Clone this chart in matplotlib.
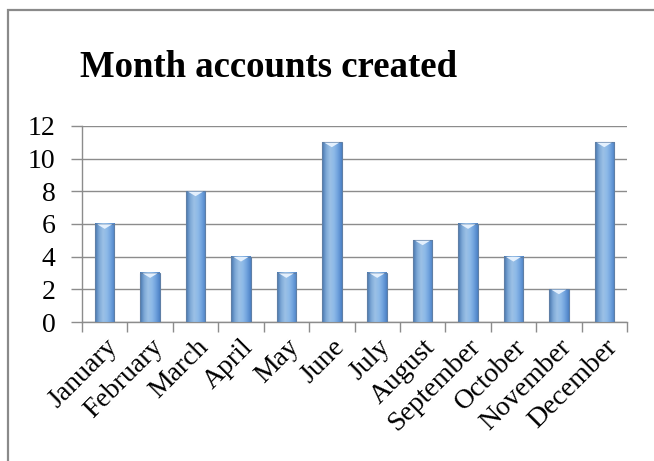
import numpy as np
import matplotlib
matplotlib.use("Agg")
import matplotlib.pyplot as plt
from matplotlib.colors import LinearSegmentedColormap
from matplotlib.patches import Rectangle

MONTHS = ["January", "February", "March", "April", "May", "June", "July",
          "August", "September", "October", "November", "December"]
ACCOUNTS = [6, 3, 8, 4, 3, 11, 3, 5, 6, 4, 2, 11]
Y_TICKS = [0, 2, 4, 6, 8, 10, 12]

TITLE = "Month accounts created"
BAR_WIDTH = 0.43
GRID_COLOR = "#8c8c8c"

plt.rcParams["font.family"] = ["Liberation Serif", "DejaVu Serif"]

fig = plt.figure(figsize=(6.54, 4.61), dpi=100)
ax = fig.add_axes([0.1254, 0.3015, 0.8333, 0.4252])

# outer chart frame
fig.patches.append(Rectangle((8 / 654, -0.1), 1.1, 1 - 10 / 461 + 0.1,
                             transform=fig.transFigure, fill=False,
                             edgecolor="#8a8a8a", linewidth=1.6))

# cylinder-like shading for each bar
cmap = LinearSegmentedColormap.from_list(
    "bar", ["#5289cb", "#8bbbef", "#a7cff7", "#93c1f1", "#70a3de", "#4a7dbf"])
xs = np.linspace(0, 1, 64)
grad = np.tile(xs, (64, 1))
shade = np.linspace(0.86, 1.03, 64)[:, None]
img = cmap(grad)
img[..., :3] = np.clip(img[..., :3] * shade, 0, 1)

for i, v in enumerate(ACCOUNTS):
    x0 = i - BAR_WIDTH / 2
    ax.imshow(img, extent=(x0, x0 + BAR_WIDTH, 0, v), origin="lower",
              aspect="auto", zorder=3, interpolation="bilinear")
    ax.add_patch(Rectangle((x0, 0), BAR_WIDTH, v, fill=False,
                           edgecolor="#5f7fa6", linewidth=0.8, zorder=4))
    # lighter cap at top of each bar
    ax.fill([x0 + 0.05, i, x0 + BAR_WIDTH - 0.05],
            [v - 0.02, v - 0.3, v - 0.02], color="#e4f0fd", zorder=5,
            linewidth=0)

ax.set_xlim(-0.5, len(MONTHS) - 0.5)
ax.set_ylim(0, 12)
ax.set_yticks(Y_TICKS)
ax.yaxis.grid(True, color=GRID_COLOR, linewidth=1.0)
ax.set_axisbelow(True)

for side in ["top", "right"]:
    ax.spines[side].set_visible(False)
for side in ["left", "bottom"]:
    ax.spines[side].set_color(GRID_COLOR)
    ax.spines[side].set_linewidth(1.0)

ax.set_xticks(range(len(MONTHS)))
ax.set_xticklabels(MONTHS, rotation=45, ha="right", rotation_mode="anchor",
                   fontsize=20)
ax.set_xticks(np.arange(-0.5, len(MONTHS)), minor=True)
ax.tick_params(axis="x", which="major", length=0, pad=9)
ax.tick_params(axis="x", which="minor", length=7, color=GRID_COLOR, width=1.0)
ax.tick_params(axis="y", length=8, color=GRID_COLOR, width=1.0,
               labelsize=20, pad=11)

fig.text(269 / 654, 1 - 77 / 461, TITLE, ha="center", va="baseline",
         fontsize=26.5, fontweight="bold")

fig.savefig("out.png", dpi=100)
